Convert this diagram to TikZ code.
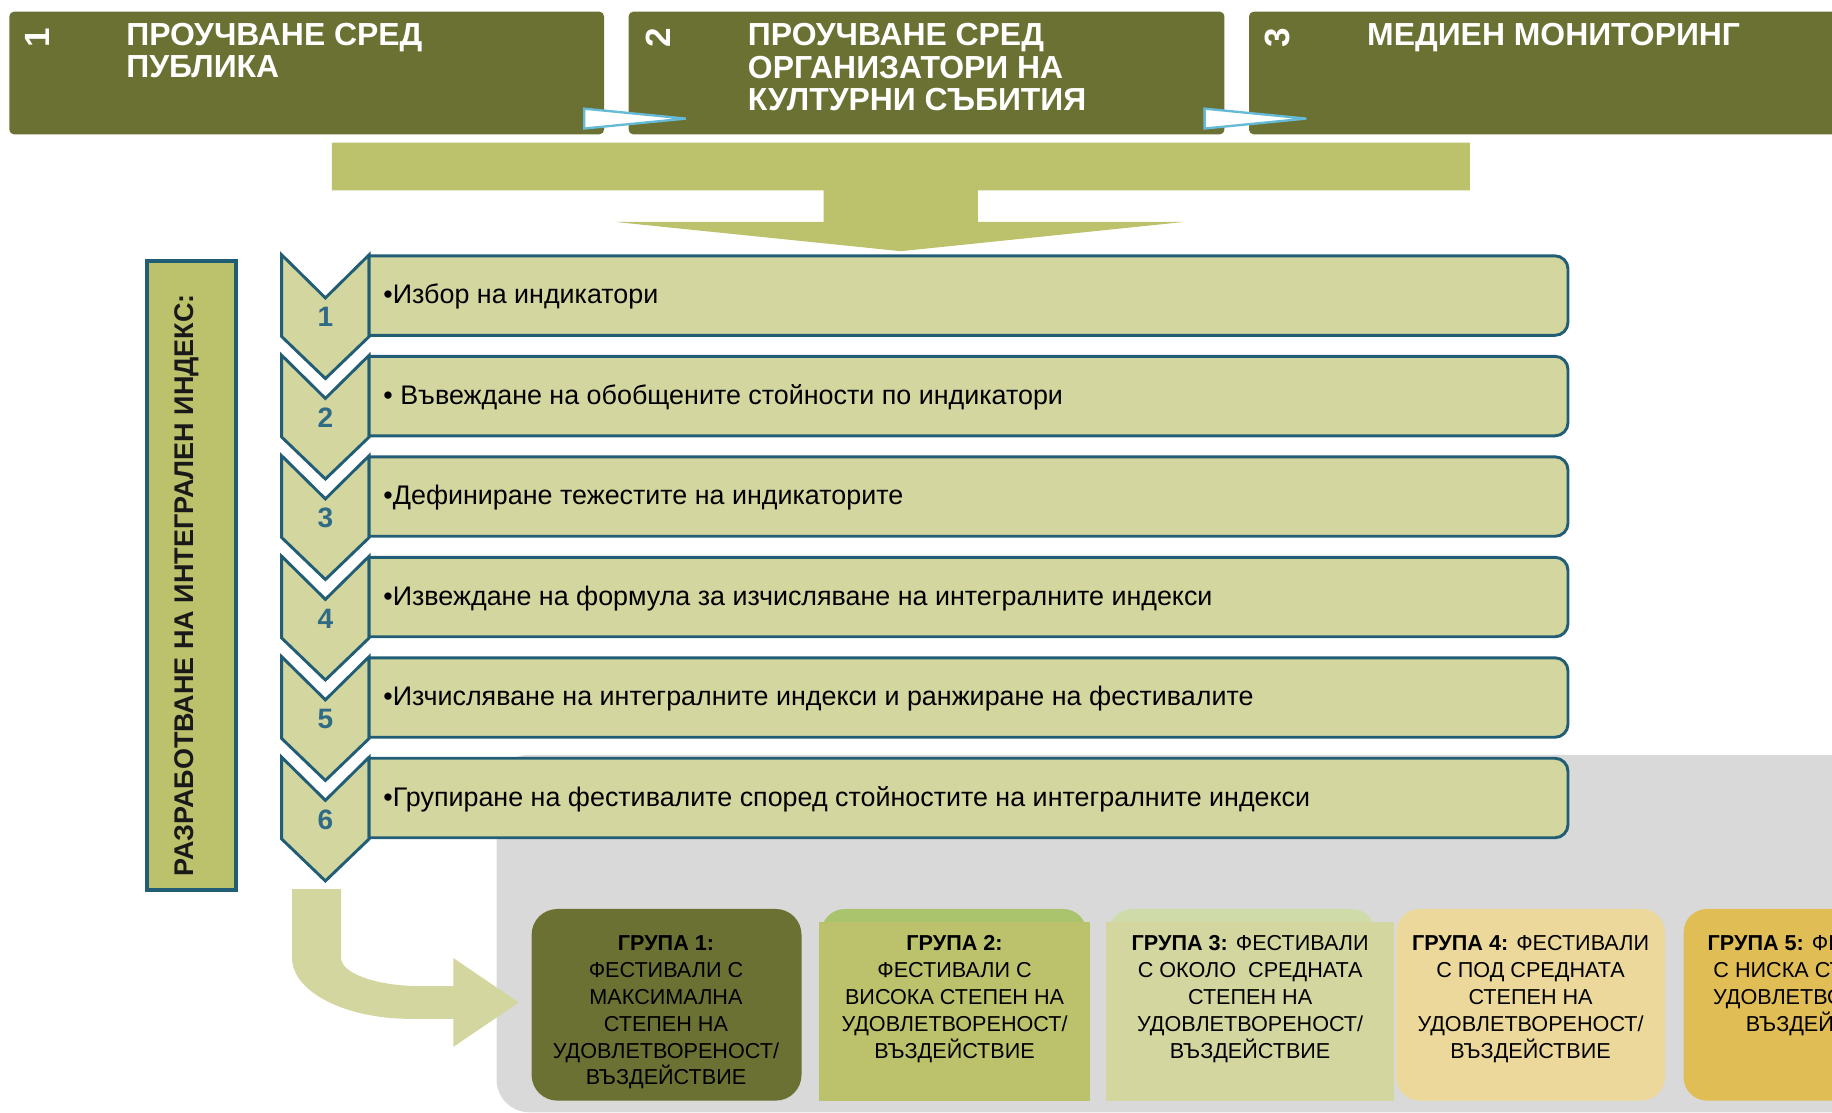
\documentclass[tikz,border=0pt]{standalone}
\usepackage{fontspec}
\setmainfont{Liberation Sans}
\definecolor{darkolive}{HTML}{6B7132}
\definecolor{midolive}{HTML}{BCC16C}
\definecolor{lightolive}{HTML}{D3D69F}
\definecolor{tealline}{HTML}{215E75}
\definecolor{tealnum}{HTML}{2F6B85}
\definecolor{graybg}{HTML}{D9D9D9}
\definecolor{captwo}{HTML}{A9C46C}
\definecolor{capthree}{HTML}{CFDCA9}
\definecolor{groupfour}{HTML}{EBD89A}
\definecolor{groupfive}{HTML}{E1BD56}
\definecolor{cyanline}{HTML}{65BBD7}
\begin{document}
\begin{tikzpicture}[x=1pt,y=-1pt,
  hdrbox/.style={fill=darkolive, rounded corners=4pt},
  hdrtext/.style={text=white, font=\bfseries\fontsize{27.3}{28}\selectfont, anchor=north west, inner sep=0pt, align=left},
  hdrnum/.style={text=white, font=\bfseries\fontsize{30}{30}\selectfont, rotate=90, inner sep=0pt},
  cyantri/.style={fill=white, draw=cyanline, line width=2pt, line join=miter},
  chevshape/.style={fill=lightolive, draw=tealline, line width=2.5pt, line join=miter},
  barshape/.style={fill=lightolive, draw=tealline, line width=2.5pt},
  bartext/.style={font=\fontsize{23}{25}\selectfont, anchor=base west, inner sep=0pt, text=black},
  chevnum/.style={text=tealnum, font=\bfseries\fontsize{24}{24}\selectfont, inner sep=0pt},
  grptext/.style={font=\fontsize{18.5}{23}\selectfont, anchor=north, inner sep=0pt, align=center, text=black},
  bigarrow/.style={fill=midolive}
]
\useasboundingbox (0,0) rectangle (1568,952);
\clip (0,0) rectangle (1568,952);

% gray background panel
\fill[graybg, rounded corners=28pt] (425,646) rectangle (1640,952);

% header boxes
\fill[hdrbox] (8,10) rectangle (517,115);
\fill[hdrbox] (538,10) rectangle (1048,115);
\fill[hdrbox] (1069,10) rectangle (1640,115);
\node[hdrnum] (n1) at (32,32) {1};
\node[hdrnum] (n2) at (563,32) {2};
\node[hdrnum] (n3) at (1093,32) {3};
\node[hdrtext] (h1) at (108,19.5) {ПРОУЧВАНЕ СРЕД\\ПУБЛИКА};
\node[hdrtext] (h2) at (640,19.5) {ПРОУЧВАНЕ СРЕД\\ОРГАНИЗАТОРИ НА\\КУЛТУРНИ СЪБИТИЯ};
\node[hdrtext] (h3) at (1170,19.5) {МЕДИЕН МОНИТОРИНГ};

% cyan connector wedges
\draw[cyantri] (500,93) -- (587,101.5) -- (500,110) -- cycle;
\draw[cyantri] (1031,93) -- (1118,101.5) -- (1031,110) -- cycle;

% big down arrow
\fill[bigarrow] (284,122) -- (1258,122) -- (1258,163) -- (837,163) -- (837,190)
  -- (1013,190) -- (771,215) -- (527,190) -- (705,190) -- (705,163) -- (284,163) -- cycle;

% vertical label box
\draw[fill=midolive, draw=tealline, line width=3.5pt] (126,223) rectangle (202,762);
\node[rotate=90, font=\bfseries\fontsize{23.1}{24}\selectfont, text=black!90, inner sep=0pt] (vlabel) at (160,501) {РАЗРАБОТВАНЕ НА ИНТЕГРАЛЕН ИНДЕКС:};

% chevrons and bars
\foreach \k/\txt in {1/{•Избор на индикатори},
                     2/{• Въвеждане на обобщените стойности по индикатори},
                     3/{•Дефиниране тежестите на индикаторите},
                     4/{•Извеждане на формула за изчисляване на интегралните индекси},
                     5/{•Изчисляване на интегралните индекси и ранжиране на фестивалите},
                     6/{•Групиране на фестивалите според стойностите на интегралните индекси}} {
  \pgfmathsetmacro{\t}{218+86*(\k-1)}
  \draw[chevshape] (241,\t) -- (278.5,\t+37) -- (316,\t) -- (316,\t+70) -- (278.5,\t+106) -- (241,\t+70) -- cycle;
  \draw[barshape] (316,\t+1) -- (1331,\t+1) .. controls (1337,\t+1) and (1342,\t+6) .. (1342,\t+12)
     -- (1342,\t+58) .. controls (1342,\t+64) and (1337,\t+69) .. (1331,\t+69) -- (316,\t+69) -- cycle;
  \node[chevnum] (c\k) at (278.5,\t+53.5) {\k};
  \node[bartext] (b\k) at (328,\t+42) {\txt};
}

% bent arrow
\fill[lightolive] (250,761) -- (250,820) .. controls (250,848.7) and (295.2,872) .. (351,872)
  -- (388,872) -- (388,896) -- (444,858) -- (388,820) -- (388,844) -- (360,844)
  .. controls (322.5,844) and (292,833.2) .. (292,820) -- (292,761) -- cycle;

% group boxes
\fill[darkolive, rounded corners=22pt] (455,778) rectangle (686,942);
\fill[captwo, rounded corners=20pt] (703,778) rectangle (930,830);
\fill[midolive] (701,789) rectangle (933,942);
\fill[capthree, rounded corners=20pt] (949,778) rectangle (1177,830);
\fill[lightolive] (947,789) rectangle (1193,942);
\fill[groupfour, rounded corners=20pt] (1195,778) rectangle (1425,942);
\fill[groupfive, rounded corners=20pt] (1441,778) rectangle (1685,942);

\node[grptext] (g1) at (570,800.7) {\textbf{ГРУПА 1:}\\ФЕСТИВАЛИ С\\МАКСИМАЛНА\\СТЕПЕН НА\\УДОВЛЕТВОРЕНОСТ/\\ВЪЗДЕЙСТВИЕ};
\node[grptext] (g2) at (817,800.7) {\textbf{ГРУПА 2:}\\ФЕСТИВАЛИ С\\ВИСОКА СТЕПЕН НА\\УДОВЛЕТВОРЕНОСТ/\\ВЪЗДЕЙСТВИЕ};
\node[grptext] (g3) at (1070,800.7) {\textbf{ГРУПА 3:} ФЕСТИВАЛИ\\С ОКОЛО\ \ СРЕДНАТА\\СТЕПЕН НА\\УДОВЛЕТВОРЕНОСТ/\\ВЪЗДЕЙСТВИЕ};
\node[grptext] (g4) at (1310,800.7) {\textbf{ГРУПА 4:} ФЕСТИВАЛИ\\С ПОД СРЕДНАТА\\СТЕПЕН НА\\УДОВЛЕТВОРЕНОСТ/\\ВЪЗДЕЙСТВИЕ};
\node[grptext] (g5) at (1563,800.7) {\textbf{ГРУПА 5:} ФЕСТИВАЛИ\\С НИСКА СТЕПЕН НА\\УДОВЛЕТВОРЕНОСТ/\\ВЪЗДЕЙСТВИЕ};
\end{tikzpicture}
\end{document}
